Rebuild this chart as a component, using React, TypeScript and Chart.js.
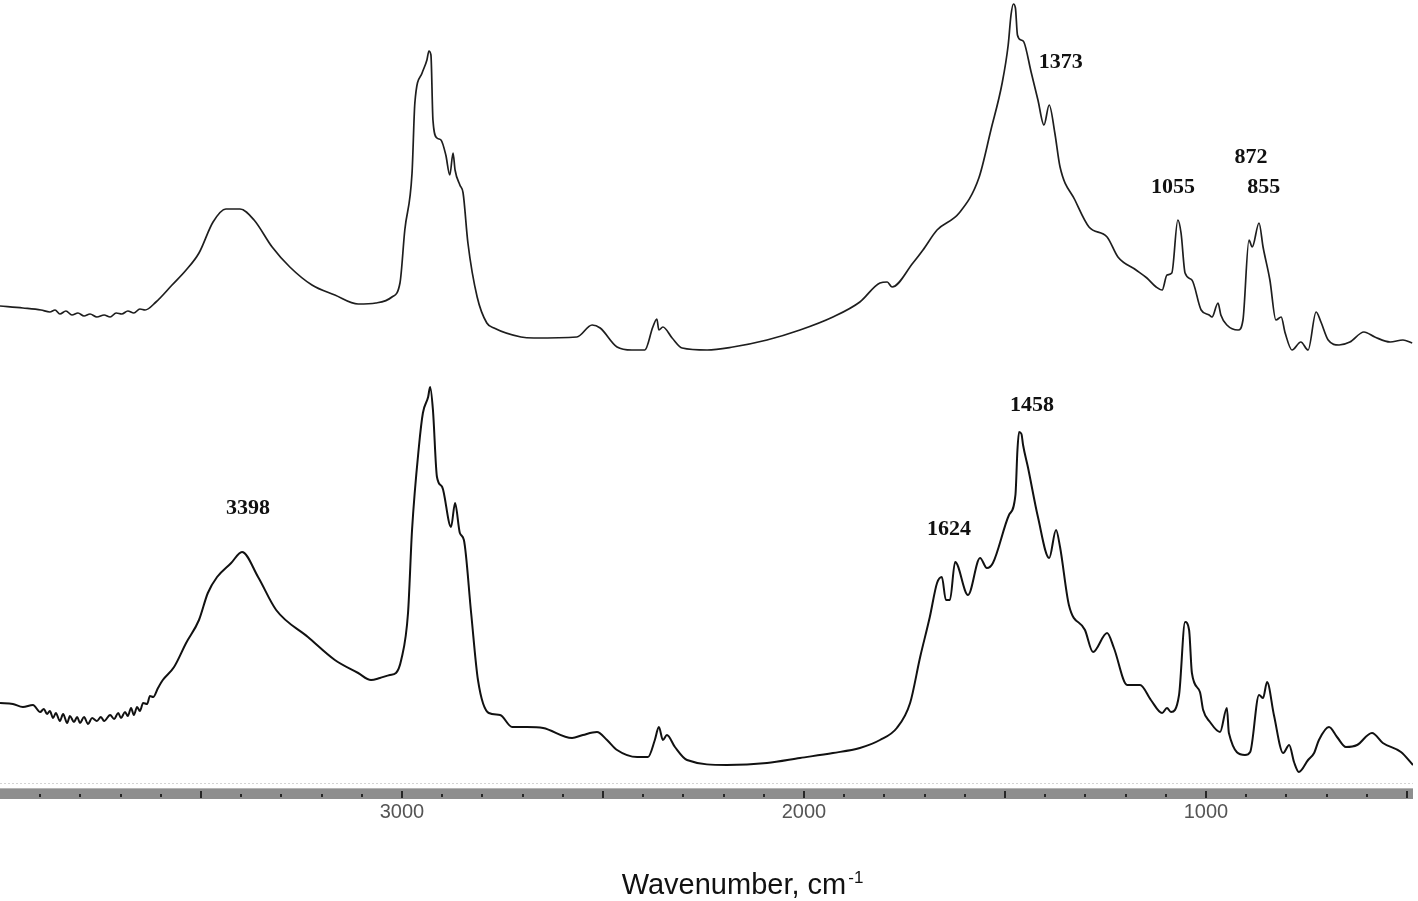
import React, { useEffect, useRef } from "react";
import { Chart, registerables } from "chart.js";

Chart.register(...registerables);

// ---- Data (wavenumber in cm^-1, intensity in arbitrary units) ----
const TOP_WAVENUMBER = [4000,3943,3898,3876,3863,3851,3836,3821,3806,3791,3776,3759,3741,3726,3711,3697,3682,3667,3652,3639,3612,3572,3537,3505,3470,3438,3403,3368,3323,3279,3224,3167,3109,3065,3025,3005,2993,2975,2968,2950,2938,2933,2928,2923,2913,2903,2891,2881,2873,2868,2856,2848,2836,2813,2789,2771,2704,2672,2565,2527,2507,2465,2428,2396,2376,2366,2361,2351,2328,2303,2241,2177,2092,2010,1928,1861,1811,1793,1781,1729,1704,1669,1614,1565,1535,1507,1492,1485,1479,1474,1469,1460,1453,1435,1418,1403,1390,1376,1363,1326,1291,1246,1219,1174,1147,1124,1109,1097,1085,1070,1062,1052,1035,1012,992,985,970,963,948,920,908,893,885,868,858,841,826,813,803,786,764,746,726,714,696,669,642,607,580,542,510,487];
const TOP_INTENSITY = [48.4,48.2,48.0,47.8,48.0,47.6,47.9,47.5,47.7,47.4,47.6,47.3,47.5,47.3,47.7,47.6,47.9,47.7,48.1,48.0,48.8,50.5,52.0,53.7,56.8,58.1,58.1,57.0,54.3,52.3,50.5,49.5,48.6,48.7,49.3,50.7,56.0,61.7,68.7,71.7,73.0,73.9,73.5,67.0,65.2,65.0,63.5,61.5,63.7,62.0,60.5,59.7,54.7,49.3,46.7,46.2,45.3,45.2,45.3,46.5,46.2,44.3,44.0,44.0,46.3,47.1,46.0,46.3,45.2,44.2,44.0,44.3,45.0,46.0,47.3,48.8,50.7,50.8,50.3,52.7,54.0,56.0,57.7,61.2,66.0,70.7,74.5,77.5,78.6,78.2,75.5,75.0,74.8,71.8,69.0,66.5,68.5,65.7,62.3,59.0,56.3,55.3,53.3,52.0,51.2,50.3,50.0,51.5,51.7,57.0,55.7,51.7,51.0,48.0,47.5,47.3,48.7,47.5,46.5,46.0,47.0,55.0,54.3,56.7,54.3,51.0,47.0,47.3,45.7,44.0,44.8,44.0,47.8,46.8,45.0,44.5,44.8,45.8,45.3,44.8,45.0,44.7];

const BOTTOM_WAVENUMBER = [4000,3968,3943,3918,3900,3891,3883,3876,3868,3861,3851,3843,3833,3826,3816,3808,3801,3791,3781,3771,3759,3749,3741,3726,3716,3706,3699,3689,3682,3674,3667,3659,3652,3644,3634,3627,3619,3607,3595,3567,3537,3505,3483,3460,3425,3398,3358,3313,3234,3167,3109,3077,3055,3030,3015,3002,2985,2975,2958,2948,2935,2930,2923,2913,2900,2878,2868,2856,2846,2828,2811,2784,2756,2726,2689,2649,2577,2550,2515,2490,2465,2415,2388,2371,2361,2351,2341,2321,2291,2192,2092,2010,1928,1861,1811,1769,1736,1711,1687,1669,1657,1647,1637,1624,1592,1562,1545,1530,1490,1474,1469,1465,1459,1455,1443,1418,1390,1373,1363,1341,1301,1281,1246,1229,1196,1164,1137,1109,1097,1087,1067,1052,1042,1035,1015,1007,990,965,948,943,903,890,868,858,848,831,808,793,781,769,746,731,719,694,674,652,624,587,560,515,485];
const BOTTOM_INTENSITY = [8.7,8.6,8.3,8.5,7.8,8.1,7.6,7.9,7.2,7.7,6.9,7.6,6.7,7.4,6.8,7.3,6.7,7.3,6.6,7.2,6.9,7.3,6.9,7.5,7.1,7.7,7.2,7.8,7.4,8.2,7.5,8.3,7.9,8.7,8.6,9.4,9.3,10.2,11.0,12.3,14.7,17.0,19.7,21.3,22.7,23.8,21.3,18.0,15.3,13.0,11.7,11.0,11.2,11.5,11.7,13.0,17.7,26.0,34.3,37.7,39.3,40.3,38.0,31.3,30.3,26.3,28.7,25.7,25.0,17.7,11.0,7.7,7.5,6.3,6.3,6.2,5.2,5.5,5.8,5.0,4.0,3.3,3.3,5.0,6.3,5.0,5.5,4.3,3.0,2.5,2.7,3.2,3.7,4.2,5.0,6.2,8.7,13.3,17.3,20.7,21.3,19.0,19.0,22.8,19.5,23.2,22.2,22.7,27.5,29.5,34.0,35.8,35.6,34.5,32.3,27.3,23.2,26.0,24.3,18.5,16.0,13.8,15.7,14.2,10.5,10.5,9.0,7.7,8.2,7.8,9.5,16.8,16.0,11.7,9.8,8.0,6.8,5.8,8.2,5.7,3.5,3.8,9.5,9.2,10.8,7.5,3.7,4.5,2.8,1.8,3.0,3.7,5.0,6.3,5.3,4.3,4.5,5.7,4.7,3.8,2.5];

const TICK_LABELS = [3000, 2000, 1000];
const X_MIN = 485;
const X_MAX = 4000;

const PEAK_LABELS = ["1373", "1055", "872", "855", "3398", "1624", "1458"];
const PEAK_LABEL_X = [1361, 1082, 888, 856, 3383, 1639, 1433];
const PEAK_LABEL_Y = [72.8, 60.3, 63.3, 60.3, 28.2, 26.1, 38.5];

const AXIS_TITLE = "Wavenumber, cm";
const AXIS_TITLE_SUP = "-1";

const toPoints = (xs: number[], ys: number[]) => xs.map((x, i) => ({ x, y: ys[i] }));

const irAxisPlugin = {
  id: "irAxis",
  afterDraw(chart: any) {
    const { ctx, chartArea, scales } = chart;
    const xs = scales.x;
    const ys = scales.y;
    const b = chartArea.bottom;
    ctx.save();
    // faint dotted guide above the bar
    ctx.strokeStyle = "#d4d4d4";
    ctx.lineWidth = 1;
    ctx.setLineDash([2, 2]);
    ctx.beginPath();
    ctx.moveTo(chartArea.left, b - 6.5);
    ctx.lineTo(chartArea.right, b - 6.5);
    ctx.stroke();
    ctx.setLineDash([]);
    // gray axis bar
    ctx.fillStyle = "#8e8e8e";
    ctx.fillRect(chartArea.left, b - 2, chartArea.right - chartArea.left, 11);
    ctx.fillStyle = "#b5b5b5";
    ctx.fillRect(chartArea.left, b - 2, chartArea.right - chartArea.left, 1);
    // tick marks
    ctx.fillStyle = "#262626";
    for (let v = 3900; v >= 500; v -= 100) {
      const px = Math.round(xs.getPixelForValue(v));
      const major = v % 500 === 0;
      if (major) ctx.fillRect(px - 1, b + 1, 2, 7);
      else ctx.fillRect(px - 1, b + 4, 2, 3);
    }
    // peak annotations
    ctx.fillStyle = "#111";
    ctx.font = 'bold 22px "Liberation Serif", "Times New Roman", serif';
    ctx.textAlign = "center";
    ctx.textBaseline = "middle";
    PEAK_LABELS.forEach((t, i) => {
      ctx.fillText(t, xs.getPixelForValue(PEAK_LABEL_X[i]), ys.getPixelForValue(PEAK_LABEL_Y[i]));
    });
    // axis title with superscript
    const mainFont = '29px "Liberation Sans", Arial, sans-serif';
    const supFont = '17px "Liberation Sans", Arial, sans-serif';
    ctx.textAlign = "left";
    ctx.textBaseline = "alphabetic";
    ctx.font = mainFont;
    const w1 = ctx.measureText(AXIS_TITLE).width;
    ctx.font = supFont;
    const w2 = ctx.measureText(AXIS_TITLE_SUP).width;
    const cx = (chartArea.left + chartArea.right) / 2 + 36;
    const x0 = cx - (w1 + w2 + 2) / 2;
    const baseY = b + 104;
    ctx.fillStyle = "#111";
    ctx.font = mainFont;
    ctx.fillText(AXIS_TITLE, x0, baseY);
    ctx.font = supFont;
    ctx.fillText(AXIS_TITLE_SUP, x0 + w1 + 2, baseY - 11);
    ctx.restore();
  },
};

export default function App() {
  const canvasRef = useRef<HTMLCanvasElement | null>(null);

  useEffect(() => {
    if (!canvasRef.current) return;
    const chart = new Chart(canvasRef.current, {
      type: "line",
      data: {
        datasets: [
          {
            label: "Top spectrum",
            data: toPoints(TOP_WAVENUMBER, TOP_INTENSITY),
            borderColor: "#1e1e1e",
            borderWidth: 1.7,
            pointRadius: 0,
            cubicInterpolationMode: "monotone",
            fill: false,
            borderJoinStyle: "round",
          },
          {
            label: "Bottom spectrum",
            data: toPoints(BOTTOM_WAVENUMBER, BOTTOM_INTENSITY),
            borderColor: "#111",
            borderWidth: 2,
            pointRadius: 0,
            cubicInterpolationMode: "monotone",
            fill: false,
            borderJoinStyle: "round",
          },
        ],
      },
      options: {
        responsive: false,
        animation: false,
        devicePixelRatio: 1,
        layout: { padding: { left: 0, right: 5, top: 0, bottom: 0 } },
        plugins: {
          legend: { display: false },
          tooltip: { enabled: false },
          title: { display: false },
        },
        scales: {
          x: {
            type: "linear",
            reverse: true,
            min: X_MIN,
            max: X_MAX,
            grid: { display: false, drawTicks: false },
            border: { display: false },
            afterBuildTicks: (s: any) => {
              s.ticks = TICK_LABELS.map((v) => ({ value: v }));
            },
            afterFit: (s: any) => {
              s.height = 111;
            },
            ticks: {
              autoSkip: false,
              maxRotation: 0,
              padding: 10,
              color: "#555",
              font: { family: '"Liberation Sans", Arial, sans-serif', size: 20 },
              callback: (v: any) => String(v),
            },
          },
          y: {
            display: false,
            min: 0,
            max: 79,
          },
        },
      },
      plugins: [irAxisPlugin],
    });
    return () => chart.destroy();
  }, []);

  return (
    <div style={{ position: "absolute", left: 0, top: 0, width: 1418, height: 901, background: "#fff" }}>
      <canvas ref={canvasRef} width={1418} height={901} style={{ display: "block" }} />
    </div>
  );
}
